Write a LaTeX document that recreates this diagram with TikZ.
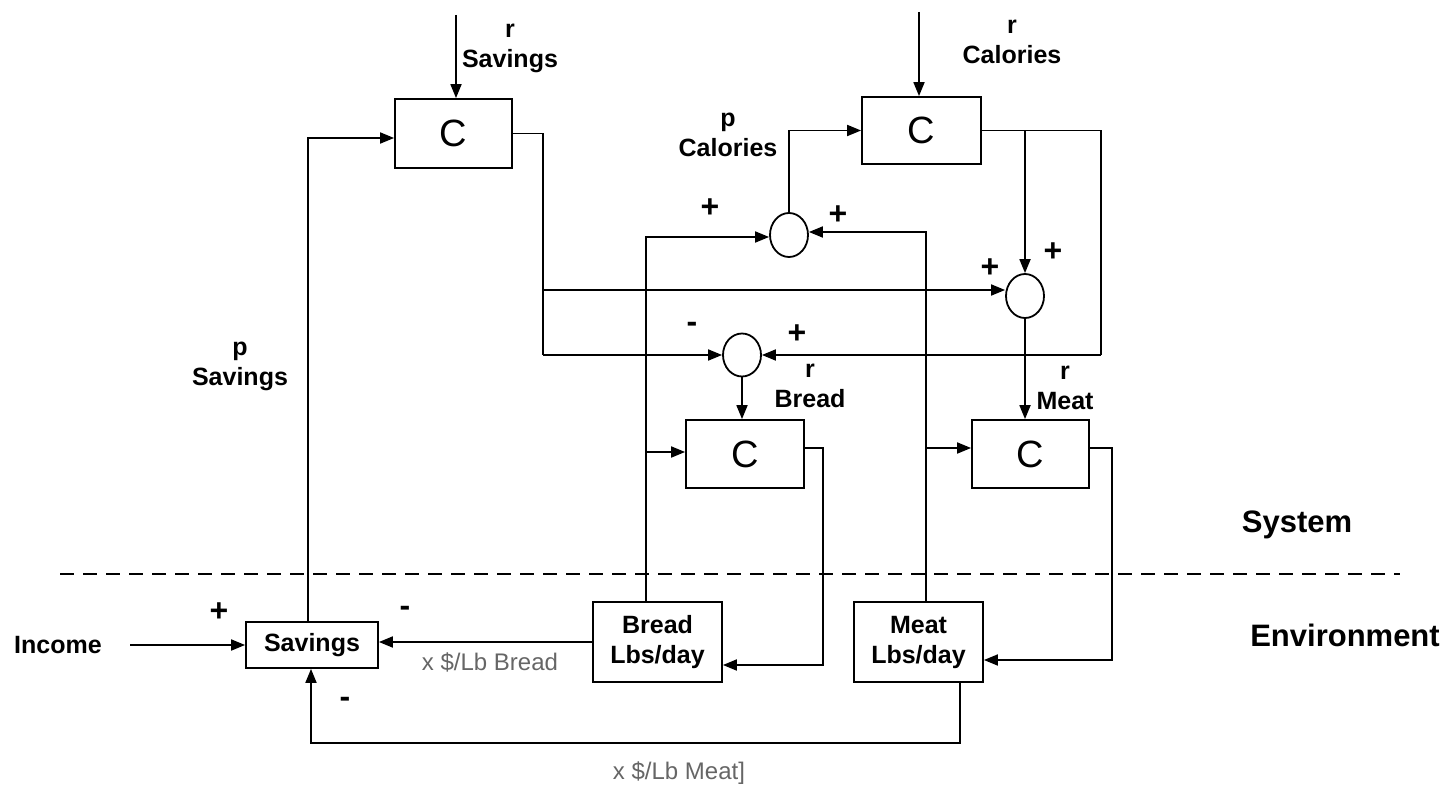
\documentclass[tikz,border=0pt]{standalone}
\usepackage{fontspec}
\setmainfont{Liberation Sans}
\usetikzlibrary{arrows.meta,shapes.geometric}
\begin{document}
\begin{tikzpicture}[x=1pt,y=-1pt,
  line width=1.8pt,
  arr/.style={-{Triangle[length=14pt,width=11pt]}},
  box/.style={draw, rectangle, inner sep=0pt},
  sumnode/.style={draw, ellipse, inner sep=0pt, minimum width=38pt, minimum height=44pt},
  lbl/.style={font=\fontsize{25}{30}\selectfont\bfseries, align=center, inner sep=0pt},
  sign/.style={font=\fontsize{32}{34}\selectfont\bfseries, inner sep=0pt},
  ctext/.style={font=\fontsize{38}{40}\selectfont},
  bigtext/.style={font=\fontsize{31}{36}\selectfont\bfseries, inner sep=0pt},
  graylbl/.style={font=\fontsize{24}{30}\selectfont, text=black!60, inner sep=0pt}
]
\path[use as bounding box] (0,0) rectangle (1450,786);

% controller boxes
\node[box, minimum width=117pt, minimum height=69pt, ctext] (csav) at (453.5,133.5) {C};
\node[box, minimum width=119pt, minimum height=67pt, ctext] (ccal) at (921.5,130.5) {C};
\node[box, minimum width=118pt, minimum height=68pt, ctext] (cbread) at (745,454) {C};
\node[box, minimum width=117pt, minimum height=68pt, ctext] (cmeat) at (1030.5,454) {C};

% summing junctions
\node[sumnode] (s1) at (789,235) {};
\node[sumnode] (s3) at (1025,296) {};
\node[sumnode, minimum height=43pt] (s2) at (742,355) {};

% environment boxes
\node[box, minimum width=132pt, minimum height=46pt, lbl] (savings) at (312,645) {Savings};
\node[box, minimum width=129pt, minimum height=80pt, lbl] (breadlbs) at (657.5,642) {Bread\\Lbs/day};
\node[box, minimum width=129pt, minimum height=80pt, lbl] (meatlbs) at (918.5,642) {Meat\\Lbs/day};

% text labels
\node[lbl] (lrsav) at (510,48) {r\\Savings};
\node[lbl] (lrcal) at (1012,42) {r\\Calories};
\node[lbl] (lpcal) at (728,135) {p\\Calories};
\node[lbl] (lpsav) at (240,366) {p\\Savings};
\node[lbl] (lrbread) at (810,386) {r\\Bread};
\node[lbl] (lrmeat) at (1065,388) {r\\Meat};
\node[lbl] (income) at (58,645) {Income};
\node[bigtext] (system) at (1297,525) {System};
\node[bigtext] (environment) at (1345,635) {Environment};
\node[graylbl] (pbread) at (490,662) {x \$/Lb Bread};
\node[graylbl] (pmeat) at (679,773) {x \$/Lb Meat]};

% signs
\node[sign] (p1) at (710,208) {+};
\node[sign] (p2) at (838,215) {+};
\node[sign] (p3) at (990,268) {+};
\node[sign] (p4) at (1053,252) {+};
\node[sign] (m1) at (692,327) {-};
\node[sign] (p5) at (797,334) {+};
\node[sign] (p6) at (219,612) {+};
\node[sign] (m2) at (405,611) {-};
\node[sign] (m3) at (345,702) {-};

% system / environment border
\draw[dashed, dash pattern=on 14pt off 9pt] (60,574) -- (1400,574);

% reference inputs
\coordinate (rsavin) at (456,15);
\draw[arr] (rsavin) -- (rsavin |- csav.north);
\coordinate (rcalin) at (919,12);
\draw[arr] (rcalin) -- (rcalin |- ccal.north);

% savings controller output
\coordinate (jsa) at (543,133.5);
\coordinate (jsb) at (543,290);
\coordinate (jsc) at (543,355);
\draw (csav.east) -- (jsa) -- (jsc);
\draw[arr] (jsc) -- (s2.west);
\draw[arr] (jsb) -- (jsb -| s3.west);

% calories controller output
\coordinate (jca) at (1101,130.5);
\coordinate (jcb) at (1101,355);
\coordinate (jcc) at (1025,130.5);
\draw (ccal.east) -- (jca) -- (jcb);
\draw[arr] (jcb) -- (s2.east);
\draw[arr] (jcc) -- (s3.north);

% sum junction outputs
\draw[arr] (s1.north) |- (ccal.west);
\draw[arr] (s3.south) -- (s3.south |- cmeat.north);
\draw[arr] (s2.south) -- (s2.south |- cbread.north);

% bread perception
\coordinate (bup) at (646,237);
\coordinate (bbr) at (646,452);
\draw[arr] (bup |- breadlbs.north) -- (bup) -- (bup -| s1.west);
\draw[arr] (bbr) -- (bbr -| cbread.west);

% meat perception
\coordinate (mup) at (926,232);
\coordinate (mbr) at (926,448);
\draw[arr] (mup |- meatlbs.north) -- (mup) -- (mup -| s1.east);
\draw[arr] (mbr) -- (mbr -| cmeat.west);

% bread controller output
\coordinate (bo1) at (823,448);
\coordinate (bo2) at (823,665);
\draw[arr] (bo1 -| cbread.east) -- (bo1) -- (bo2) -- (bo2 -| breadlbs.east);

% meat controller output
\coordinate (mo1) at (1112,448);
\coordinate (mo2) at (1112,660);
\draw[arr] (mo1 -| cmeat.east) -- (mo1) -- (mo2) -- (mo2 -| meatlbs.east);

% environment
\coordinate (incout) at (130,645);
\draw[arr] (incout) -- (savings.west);
\draw[arr] (breadlbs.west) -- (breadlbs.west -| savings.east);
\coordinate (sup) at (308,138);
\draw[arr] (sup |- savings.north) -- (sup) -- (sup -| csav.west);
\coordinate (mb) at (960,743);
\coordinate (sb) at (311,743);
\draw[arr] (mb |- meatlbs.south) -- (mb) -- (sb) -- (sb |- savings.south);
\end{tikzpicture}
\end{document}
